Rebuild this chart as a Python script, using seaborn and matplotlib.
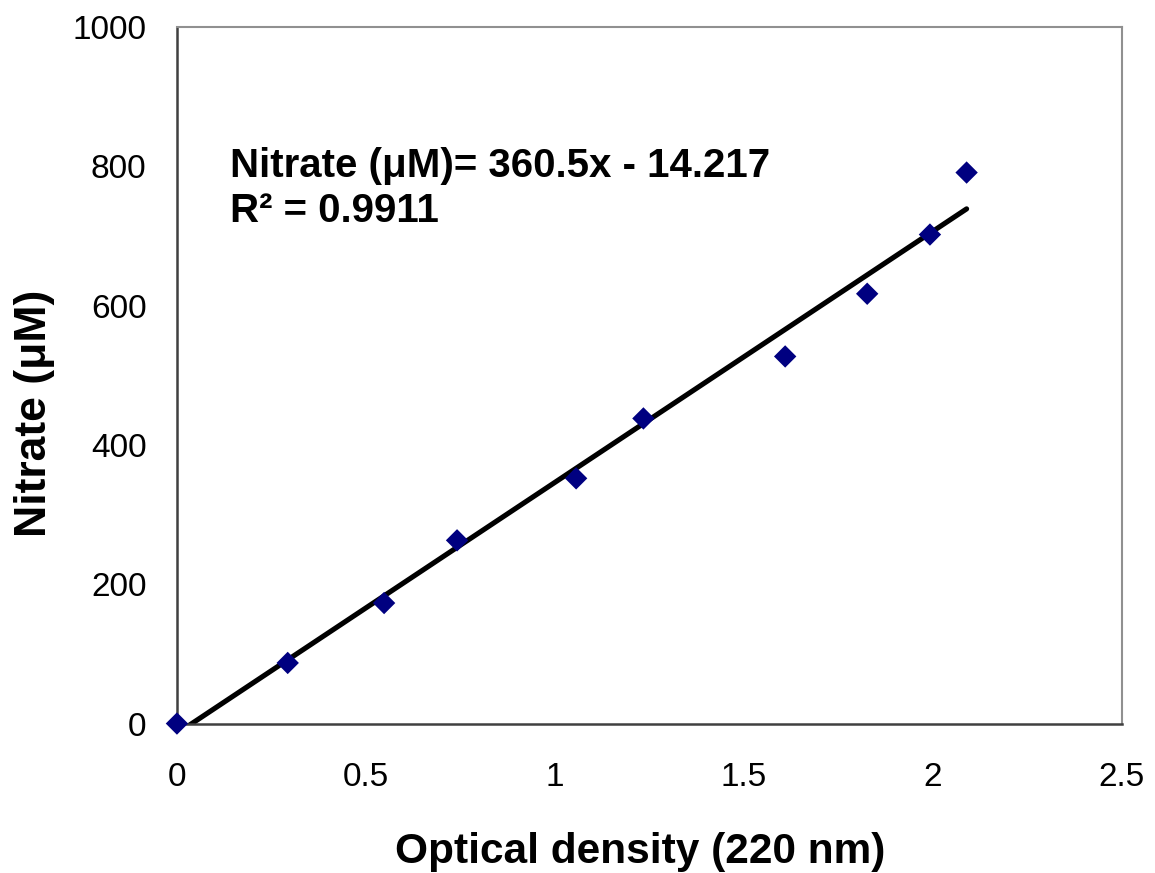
import numpy as np
import pandas as pd
import matplotlib
matplotlib.use("Agg")
import matplotlib.pyplot as plt
import seaborn as sns

# calibration data
optical_density = [0.0, 0.293, 0.548, 0.741, 1.056, 1.234, 1.609, 1.826, 1.992, 2.089]
nitrate_um = [0, 87, 173, 263, 352, 438, 527, 617, 702, 791]

# trendline from the equation shown on the chart
slope = 360.5
intercept = -14.217
r_squared = 0.9911

sns.set_style("white")
plt.rcParams['font.family'] = ['Liberation Sans', 'DejaVu Sans']
plt.rcParams['text.color'] = 'black'
plt.rcParams['axes.labelcolor'] = 'black'
plt.rcParams['xtick.color'] = 'black'
plt.rcParams['ytick.color'] = 'black'

df = pd.DataFrame({"od": optical_density, "nitrate": nitrate_um})

fig = plt.figure(figsize=(11.55, 8.73), dpi=100)
ax = fig.add_axes([0.1532, 0.1712, 0.8182, 0.7979])

# trendline
x_fit = np.array([min(optical_density), max(optical_density)])
y_fit = slope * x_fit + intercept
sns.lineplot(x=x_fit, y=y_fit, ax=ax, color='black', linewidth=3.7, zorder=2)

# data points
sns.scatterplot(data=df, x="od", y="nitrate", ax=ax, marker='D', s=130,
                color='#000080', edgecolor='none', zorder=3, clip_on=False)

ax.set_xlim(0, 2.5)
ax.set_ylim(0, 1000)
ax.set_xticks([0, 0.5, 1, 1.5, 2, 2.5])
ax.set_xticklabels(['0', '0.5', '1', '1.5', '2', '2.5'])
ax.set_yticks([0, 200, 400, 600, 800, 1000])

ax.tick_params(axis='both', direction='in', labelsize=24, width=1.2, color='#404040')
ax.tick_params(axis='x', length=8, pad=28)
ax.tick_params(axis='y', length=8, pad=22)

for side in ['left', 'bottom']:
    ax.spines[side].set_color('#404040')
    ax.spines[side].set_linewidth(1.8)
for side in ['top', 'right']:
    ax.spines[side].set_color('#909090')
    ax.spines[side].set_linewidth(1.5)

ax.set_xlabel('Optical density (220 nm)', fontsize=30.5, fontweight='bold')
ax.set_ylabel('Nitrate (\u03bcM)', fontsize=32, fontweight='bold')
ax.xaxis.set_label_coords(0.49, -0.156)
ax.yaxis.set_label_coords(-0.129, 0.446)

ax.text(0.056, 0.785, 'Nitrate (\u03bcM)= %.1fx - %.3f' % (slope, -intercept),
        transform=ax.transAxes, fontsize=29, fontweight='bold', va='baseline')
ax.text(0.056, 0.72, 'R\u00b2 = %.4f' % r_squared,
        transform=ax.transAxes, fontsize=29, fontweight='bold', va='baseline')

fig.savefig('out.png', dpi=100)
